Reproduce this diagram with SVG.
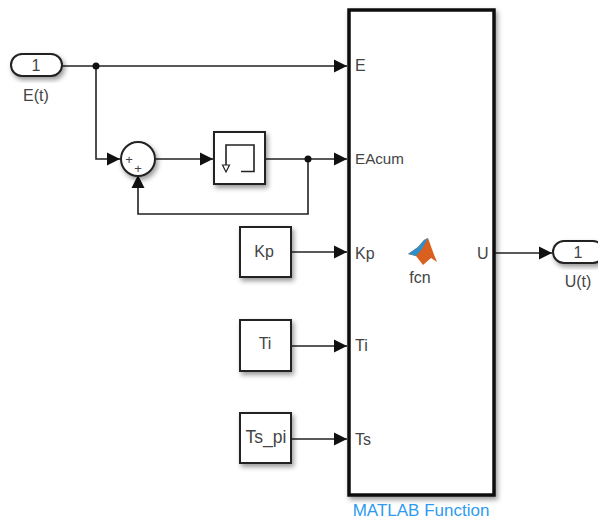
<svg xmlns="http://www.w3.org/2000/svg" width="598" height="520" viewBox="0 0 598 520">
<style>
text{font-family:"Liberation Sans",Arial,sans-serif;font-size:16px;fill:#444}
.m{text-anchor:middle}
.b{fill:#fff;stroke:#222;stroke-width:2}
.c{fill:none;stroke:#222;stroke-width:1.6}
.s{filter:url(#sh)}
</style>
<defs>
<filter id="sh" x="-20%" y="-20%" width="150%" height="150%"><feDropShadow dx="2" dy="3" stdDeviation="2.5" flood-color="#000" flood-opacity=".4"/></filter>
<marker id="a" markerUnits="userSpaceOnUse" markerWidth="14" markerHeight="14" refX="13" refY="7" orient="auto"><path d="M0 0.5L13 7L0 13.500Z" fill="#111"/></marker>
</defs>
<g id="connectors">
<path class="c" d="M62 66H347" marker-end="url(#a)"/>
<path class="c" d="M96 66V159H120" marker-end="url(#a)"/>
<path class="c" d="M156 159H213" marker-end="url(#a)"/>
<path class="c" d="M266 159H347" marker-end="url(#a)"/>
<path class="c" d="M308 159V214H138V175" marker-end="url(#a)"/>
<path class="c" d="M291 252H347" marker-end="url(#a)"/>
<path class="c" d="M291 346H347" marker-end="url(#a)"/>
<path class="c" d="M291 439H347" marker-end="url(#a)"/>
<path class="c" d="M495 253H552" marker-end="url(#a)"/>
<circle cx="96" cy="66" r="3.500" fill="#111"/>
<circle cx="308" cy="159" r="3.500" fill="#111"/>
</g>
<g id="inport">
<rect class="b s" x="11" y="54" width="51" height="22" rx="11"/>
<text class="m" x="36" y="71">1</text>
<text class="m" x="36" y="101">E(t)</text>
</g>
<g id="sum">
<circle class="b s" cx="138" cy="159" r="17"/>
<text class="m" x="129" y="164" style="font-size:13px">+</text>
<text class="m" x="138" y="173" style="font-size:13px">+</text>
</g>
<g id="delay">
<rect class="b s" x="214" y="132" width="51" height="52"/>
<path class="c" d="M241 171.500H254V145H226V165"/>
<path d="M222.500 165H229.500L226 172Z" fill="#fff" stroke="#222" stroke-width="1.200"/>
</g>
<g id="kp">
<rect class="b s" x="240" y="227" width="51" height="50"/>
<text class="m" x="264" y="257">Kp</text>
</g>
<g id="ti">
<rect class="b s" x="240" y="320" width="51" height="51"/>
<text class="m" x="265" y="349">Ti</text>
</g>
<g id="ts_pi">
<rect class="b s" x="240" y="413" width="51" height="50"/>
<text class="m" x="266" y="443" style="font-size:17.500px">Ts_pi</text>
</g>
<g id="matlab_function">
<rect x="349" y="10" width="145" height="485" fill="#fff" stroke="#111" stroke-width="3.500" class="s"/>
<text x="355" y="71">E</text>
<text x="355" y="164" style="font-size:15.200px">EAcum</text>
<text x="355" y="259">Kp</text>
<text x="355" y="351">Ti</text>
<text x="355" y="445">Ts</text>
<text x="477" y="259">U</text>
<path d="M408 254L418 247L424 240L428 238L433 252L437 262L431 258L423 265L416 256Z" fill="#d9601f"/>
<path d="M408 254L418 247L424 240L428 238L422 249L416 256Z" fill="#2f8fc6"/>
<text class="m" x="420" y="283">fcn</text>
<text class="m" x="421" y="516" style="fill:#2e9bf0;font-size:17px">MATLAB Function</text>
</g>
<g id="outport">
<rect class="b s" x="553" y="241" width="51" height="22" rx="11"/>
<text class="m" x="578" y="258">1</text>
<text class="m" x="578" y="287">U(t)</text>
</g>
</svg>
